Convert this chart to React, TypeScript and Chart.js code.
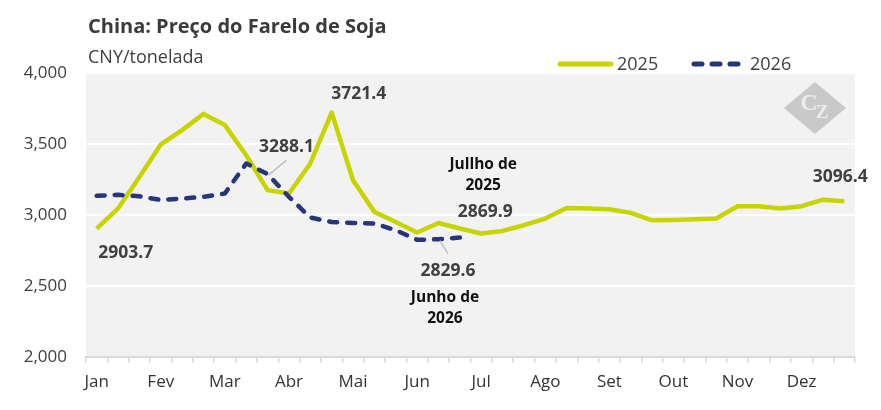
import { useEffect, useRef } from "react";
import { Chart, registerables, Plugin } from "chart.js";

Chart.register(...registerables);

const xLabels = [
  "Jan", "", "", "Fev", "", "", "Mar", "", "", "Abr", "", "",
  "Mai", "", "", "Jun", "", "", "Jul", "", "", "Ago", "", "",
  "Set", "", "", "Out", "", "", "Nov", "", "", "Dez", "", "",
];

const prices2025 = [
  2903.7, 3046, 3268, 3497, 3598, 3712, 3633, 3421, 3175, 3151, 3363, 3721.4,
  3245, 3022, 2951, 2877, 2944, 2905, 2869.9, 2888, 2928, 2975, 3050, 3046,
  3041, 3015, 2963, 2965, 2970, 2975, 3062, 3062, 3046, 3062, 3108, 3096.4,
];

const prices2026 = [
  3135, 3142, 3132, 3106, 3116, 3128, 3151, 3363, 3288.1, 3128, 2982, 2951,
  2944, 2940, 2893, 2825, 2829.6, 2841,
];

const GREEN = "#c8d400";
const BLUE = "#27367a";
const TEXT = "#404040";
const FONT = "'Open Sans', sans-serif";

// value labels: which series, which point, what text, offset from the point
const notes = [
  { ds: 1, i: 0, text: "2903.7", dx: 29, dy: 24, color: TEXT, size: 17.5 },
  { ds: 1, i: 11, text: "3721.4", dx: 27, dy: -19, color: TEXT, size: 17.5 },
  { ds: 0, i: 8, text: "3288.1", dx: 19, dy: -27, color: TEXT, size: 17.5 },
  { ds: 1, i: 35, text: "3096.4", dx: -4, dy: -24, color: TEXT, size: 17.5 },
  { ds: 1, i: 18, text: "2869.9", dx: 4, dy: -21, color: TEXT, size: 17.5 },
  { ds: 1, i: 18, text: "Jullho de", dx: 2, dy: -69, color: "#111", size: 15.5 },
  { ds: 1, i: 18, text: "2025", dx: 2, dy: -48, color: "#111", size: 15.5 },
  { ds: 0, i: 16, text: "2829.6", dx: 9.5, dy: 31.5, color: TEXT, size: 17.5 },
  { ds: 0, i: 16, text: "Junho de", dx: 6.5, dy: 58.5, color: "#111", size: 15.5 },
  { ds: 0, i: 16, text: "2026", dx: 6.5, dy: 79.5, color: "#111", size: 15.5 },
];

const leaders = [
  { ds: 0, i: 8, x1: 1, y1: 1, x2: 19, y2: -14 },
  { ds: 0, i: 16, x1: 1.5, y1: 1.5, x2: 9.5, y2: 14.5 },
];

const decorations: Plugin<"line"> = {
  id: "decorations",
  beforeDraw(chart) {
    const { ctx, chartArea: a } = chart;
    ctx.save();
    ctx.fillStyle = "#f2f2f2";
    ctx.fillRect(a.left, a.top, a.right - a.left, a.bottom - a.top);
    ctx.restore();
  },
  afterDraw(chart) {
    const { ctx } = chart;
    const xs = chart.scales.x;
    const ys = chart.scales.y;
    const series = [prices2026, prices2025];
    ctx.save();

    // title and unit
    ctx.textAlign = "left";
    ctx.textBaseline = "alphabetic";
    ctx.fillStyle = "#3a3a3a";
    ctx.font = `bold 20px ${FONT}`;
    ctx.fillText("China: Preço do Farelo de Soja", 88, 33);
    ctx.fillStyle = TEXT;
    ctx.font = `18px ${FONT}`;
    ctx.fillText("CNY/tonelada", 88, 63);

    // legend
    ctx.lineCap = "round";
    ctx.lineWidth = 5;
    ctx.strokeStyle = GREEN;
    ctx.beginPath();
    ctx.moveTo(560, 64);
    ctx.lineTo(611, 64);
    ctx.stroke();
    ctx.strokeStyle = BLUE;
    ctx.setLineDash([8, 10]);
    ctx.beginPath();
    ctx.moveTo(694, 64);
    ctx.lineTo(740, 64);
    ctx.stroke();
    ctx.setLineDash([]);
    ctx.fillStyle = TEXT;
    ctx.font = `18px ${FONT}`;
    ctx.fillText("2025", 617, 70);
    ctx.fillText("2026", 750, 70);

    // logo
    ctx.fillStyle = "#c9c9c9";
    ctx.beginPath();
    ctx.moveTo(815, 82);
    ctx.lineTo(846, 108);
    ctx.lineTo(815, 134);
    ctx.lineTo(784, 108);
    ctx.closePath();
    ctx.fill();
    ctx.fillStyle = "#ececec";
    ctx.textAlign = "center";
    ctx.textBaseline = "middle";
    ctx.font = `bold 24px 'Liberation Serif', serif`;
    ctx.fillText("C", 809, 104);
    ctx.font = `bold 19px 'Liberation Serif', serif`;
    ctx.fillText("Z", 822, 113);

    // leader lines
    ctx.strokeStyle = "#bfbfbf";
    ctx.lineWidth = 1.5;
    ctx.lineCap = "butt";
    for (const l of leaders) {
      const px = xs.getPixelForValue(l.i);
      const py = ys.getPixelForValue(series[l.ds][l.i]);
      ctx.beginPath();
      ctx.moveTo(px + l.x1, py + l.y1);
      ctx.lineTo(px + l.x2, py + l.y2);
      ctx.stroke();
    }

    // value labels
    for (const n of notes) {
      const px = xs.getPixelForValue(n.i);
      const py = ys.getPixelForValue(series[n.ds][n.i]);
      ctx.fillStyle = n.color;
      ctx.font = `bold ${n.size}px ${FONT}`;
      ctx.fillText(n.text, px + n.dx, py + n.dy);
    }
    ctx.restore();
  },
};

export default function App() {
  const canvasRef = useRef<HTMLCanvasElement | null>(null);

  useEffect(() => {
    if (!canvasRef.current) return;
    const chart = new Chart(canvasRef.current, {
      type: "line",
      data: {
        labels: xLabels,
        datasets: [
          {
            label: "2026",
            data: prices2026,
            borderColor: BLUE,
            borderWidth: 4.5,
            borderDash: [8, 10],
            borderCapStyle: "round",
            borderJoinStyle: "round",
            pointRadius: 0,
            tension: 0,
          },
          {
            label: "2025",
            data: prices2025,
            borderColor: GREEN,
            borderWidth: 4.5,
            borderJoinStyle: "round",
            pointRadius: 0,
            tension: 0,
          },
        ],
      },
      options: {
        responsive: false,
        animation: false,
        layout: { padding: { top: 73, right: 26, left: 0, bottom: 0 } },
        plugins: {
          legend: { display: false },
          tooltip: { enabled: false },
        },
        scales: {
          x: {
            type: "category",
            offset: true,
            afterFit: (scale) => {
              scale.height = 53;
            },
            grid: {
              offset: true,
              drawOnChartArea: false,
              drawTicks: true,
              tickLength: 6,
              color: "#d9d9d9",
              lineWidth: 1.5,
            },
            border: { display: true, color: "#d9d9d9", width: 2 },
            ticks: {
              autoSkip: false,
              maxRotation: 0,
              padding: 9,
              color: "#333",
              font: { family: FONT, size: 17 },
            },
          },
          y: {
            min: 2000,
            max: 4000,
            afterFit: (scale) => {
              scale.width = 86;
            },
            grid: { color: "#ffffff", lineWidth: 2, drawTicks: false },
            border: { display: false },
            ticks: {
              stepSize: 500,
              padding: 19,
              color: TEXT,
              font: { family: FONT, size: 17 },
              callback: (v) => Number(v).toLocaleString("en-US"),
            },
          },
        },
      },
      plugins: [decorations],
    });
    return () => chart.destroy();
  }, []);

  return (
    <div style={{ position: "absolute", left: 0, top: 0, width: 881, height: 410 }}>
      <canvas ref={canvasRef} width={881} height={410} />
    </div>
  );
}
